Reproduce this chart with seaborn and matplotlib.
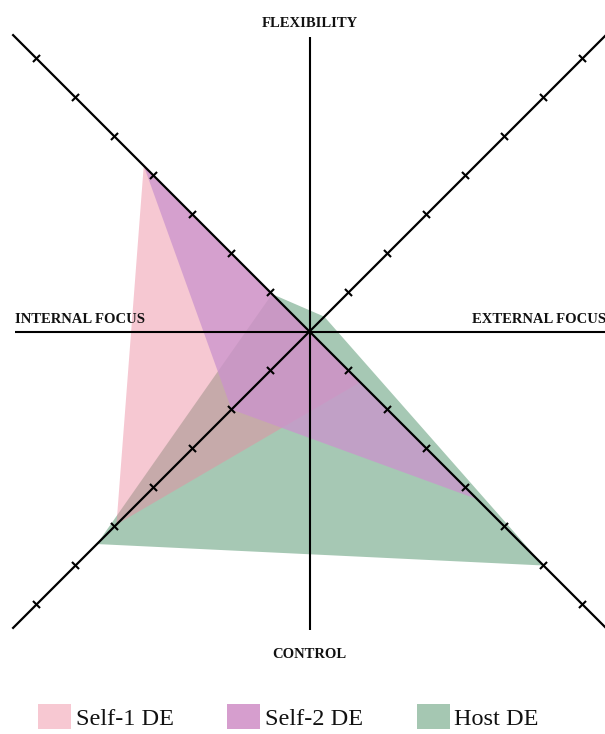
import numpy as np
import matplotlib
matplotlib.use("Agg")
import matplotlib.pyplot as plt
from matplotlib.patches import Patch
import seaborn as sns

# Four diagonal directions of the competing-values grid (upper-left, upper-right,
# lower-right, lower-left) and the scores of each profile along them.
directions = ["upper-left", "upper-right", "lower-right", "lower-left"]
series_names = ["Self-1 DE", "Self-2 DE", "Host DE"]
self1_scores = [4.25, 0.0, 1.3, 4.95]
self2_scores = [4.25, 0.0, 4.3, 2.0]
host_scores = [0.96, 0.38, 6.0, 5.45]
scale_ticks = [1, 2, 3, 4, 5, 6, 7]
axis_labels = ["FLEXIBILITY", "CONTROL", "INTERNAL FOCUS", "EXTERNAL FOCUS"]

sns.set_theme(style="white")
plt.rcParams["font.family"] = ["Liberation Serif", "DejaVu Serif"]
plt.rcParams["text.color"] = "black"

unit_dirs = {
    "upper-left": (-1.0, 1.0),
    "upper-right": (1.0, 1.0),
    "lower-right": (1.0, -1.0),
    "lower-left": (-1.0, -1.0),
}

# pixel scale: one score unit = 39 px along each of x and y
px = 39.0
cx, cy = 309.5, 331.5
W, H = 605, 734

fig = plt.figure(figsize=(W / 100, H / 100), dpi=100)
ax = fig.add_axes([0, 0, 1, 1])
ax.set_xlim(-cx / px, (W - cx) / px)
ax.set_ylim((cy - H) / px, cy / px)
ax.set_aspect("equal")
ax.axis("off")


def polygon(scores):
    xs = [unit_dirs[d][0] * v for d, v in zip(directions, scores)]
    ys = [unit_dirs[d][1] * v for d, v in zip(directions, scores)]
    return xs, ys


fills = {
    "Host DE": dict(color=(166 / 255, 200 / 255, 180 / 255), alpha=1.0, z=1),
    "Self-1 DE": dict(color=(236 / 255, 138 / 255, 160 / 255), alpha=0.47, z=2),
    "Self-2 DE": dict(color=(203 / 255, 147 / 255, 205 / 255), alpha=0.75, z=3),
}
scores_by_name = {"Self-1 DE": self1_scores, "Self-2 DE": self2_scores, "Host DE": host_scores}

for name in ["Host DE", "Self-1 DE", "Self-2 DE"]:
    xs, ys = polygon(scores_by_name[name])
    st = fills[name]
    ax.fill(xs, ys, color=st["color"], alpha=st["alpha"], lw=0, zorder=st["z"])

# main cross
ax.plot([0, 0], [-7.65, 7.55], color="black", lw=1.5, zorder=5, solid_capstyle="butt")
ax.plot([-7.55, 8.0], [0, 0], color="black", lw=1.5, zorder=5, solid_capstyle="butt")

# diagonal scales with perpendicular tick marks
half = 5.0 / px / np.sqrt(2)
for d in directions:
    sx, sy = unit_dirs[d]
    ax.plot([0, sx * 7.62], [0, sy * 7.62], color="black", lw=1.6, zorder=5,
            solid_capstyle="butt")
    for t in scale_ticks:
        x0, y0 = sx * t, sy * t
        # perpendicular direction to (sx, sy) is (-sy, sx)
        ax.plot([x0 - sy * half, x0 + sy * half], [y0 + sx * half, y0 - sx * half],
                color="black", lw=1.5, zorder=5, solid_capstyle="butt")

lab_kw = dict(fontsize=10.5, fontweight="bold", color="#111111", va="baseline", zorder=6)
ax.text(0, (cy - 26.7) / px, axis_labels[0], ha="center", **lab_kw)
ax.text(0, (cy - 658.0) / px, axis_labels[1], ha="center", **lab_kw)
ax.text((15 - cx) / px, (cy - 323.0) / px, axis_labels[2], ha="left", **lab_kw)
ax.text((471.7 - cx) / px, (cy - 323.0) / px, axis_labels[3], ha="left", **lab_kw)

legend_colors = ["#F7C8D2", "#D69ECE", "#A5C7B2"]
handles = [Patch(facecolor=c, edgecolor="none", label=n) for c, n in zip(legend_colors, series_names)]
fig.legend(handles=handles, loc="upper left", bbox_to_anchor=(38.3 / W, 1 - 704.3 / H),
           ncol=3, frameon=False, fontsize=17.5, handlelength=1.35, handleheight=1.2,
           handletextpad=0.2, columnspacing=2.2, borderpad=0, borderaxespad=0,
           labelcolor="#111111")

fig.savefig("out.png", dpi=100, facecolor="white")
